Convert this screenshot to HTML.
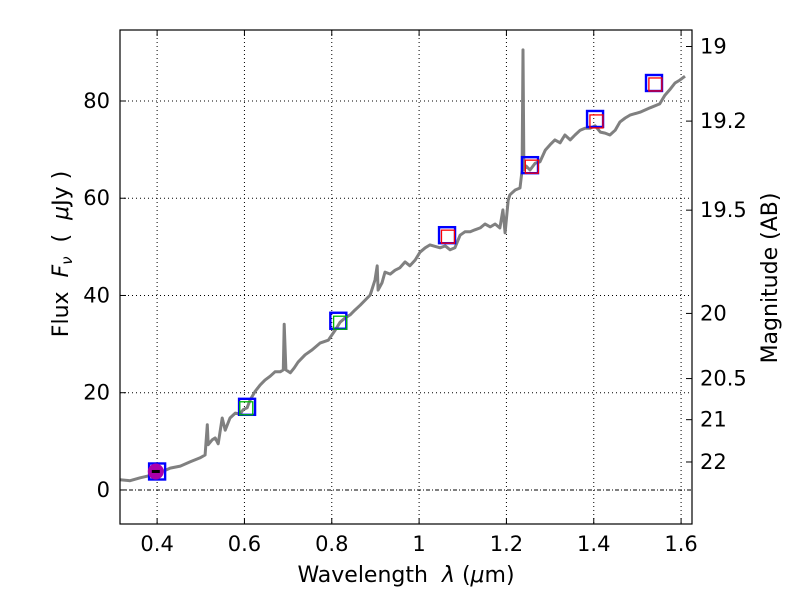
<!DOCTYPE html>
<html><head><meta charset="utf-8">
<style>
body{margin:0;background:#fff;}
svg text{font-family:"DejaVu Sans","Liberation Sans",sans-serif;}
</style></head>
<body>
<svg id="chart" width="800" height="600" viewBox="0 0 800 600" xmlns="http://www.w3.org/2000/svg" style="position:absolute;left:0;top:0">
<rect x="0" y="0" width="800" height="600" fill="#fff"/>
<g id="grid"></g>
<g id="plot"></g>
<g id="axes"></g>
</svg>
<script>
const specWave=[0.315,0.338,0.361,0.4,0.430,0.453,0.476,0.498,0.510,0.515,0.517,0.526,0.533,0.540,0.549,0.556,0.567,0.579,0.590,0.597,0.606,0.613,0.624,0.636,0.647,0.659,0.670,0.682,0.689,0.691,0.695,0.705,0.714,0.723,0.739,0.755,0.773,0.792,0.808,0.819,0.831,0.842,0.853,0.865,0.888,0.899,0.904,0.906,0.915,0.922,0.934,0.945,0.956,0.968,0.979,0.991,1.002,1.014,1.025,1.048,1.060,1.071,1.082,1.094,1.105,1.117,1.128,1.140,1.151,1.163,1.174,1.185,1.192,1.197,1.204,1.208,1.220,1.231,1.236,1.238,1.240,1.245,1.254,1.266,1.277,1.289,1.300,1.311,1.323,1.334,1.346,1.357,1.369,1.380,1.392,1.403,1.415,1.426,1.437,1.449,1.460,1.472,1.483,1.506,1.529,1.551,1.563,1.574,1.586,1.597,1.609,1.625];
const specFlux=[2.1,1.9,2.5,3.3,4.5,4.9,5.8,6.6,7.2,13.4,9.3,10.3,10.7,9.5,14.8,12.3,14.8,15.8,15.6,16.5,16.9,18.5,20.2,21.6,22.6,23.4,24.3,24.3,24.7,34.1,24.7,24.1,25.1,26.3,27.8,28.8,30.2,30.8,32.9,34.5,35.4,36.0,37.0,38.0,40.1,43.2,46.1,41.1,42.6,44.8,44.4,45.2,45.7,46.9,46.1,47.3,48.9,49.8,50.4,49.8,50.2,49.4,49.8,52.4,53.1,53.1,53.5,53.9,54.7,54.1,54.7,53.9,57.6,52.9,59.6,60.7,61.7,62.1,65.8,90.5,65.8,66.6,65.8,67.2,67.5,69.9,71.0,72.0,71.4,73.0,72.0,73.0,74.0,74.4,74.4,74.9,73.6,73.4,73.0,74.0,75.7,76.5,77.1,77.7,78.6,79.4,81.2,82.3,83.7,84.3,85.1];
const blueWave=[0.4,0.606,0.815,1.064,1.254,1.403,1.538];
const blueFlux=[3.8,17.1,34.8,52.4,66.8,76.3,83.7];
const greenWave=[0.603,0.818];
const greenFlux=[16.9,34.5];
const redWave=[1.065,1.257,1.405,1.540];
const redFlux=[52.2,66.6,75.9,83.5];
const circleWave=[0.397];
const circleFlux=[3.8];
const xTicks=[0.4,0.6,0.8,1.0,1.2,1.4,1.6];
const xTickLabels=["0.4","0.6","0.8","1","1.2","1.4","1.6"];
const yTicks=[0,20,40,60,80];
const magTicks=[19,19.2,19.5,20,20.5,21,22];
const magLabels=["19","19.2","19.5","20","20.5","21","22"];

const L=120,R=692,T=30,B=524;
const xmin=0.315,xmax=1.625,ymin=-7.0,ymax=94.6;
const X=v=>L+(v-xmin)/(xmax-xmin)*(R-L);
const Y=v=>B-(v-ymin)/(ymax-ymin)*(B-T);
const NS="http://www.w3.org/2000/svg";
function mk(tag,parent,attrs){const e=document.createElementNS(NS,tag);for(const k in attrs)e.setAttribute(k,attrs[k]);parent.appendChild(e);return e;}
const grid=document.getElementById('grid'),plot=document.getElementById('plot'),axes=document.getElementById('axes');

xTicks.forEach(t=>{const g=mk('line',grid,{x1:X(t),x2:X(t),y1:T,y2:B,stroke:'#000','stroke-width':1,'stroke-dasharray':'1,3'});

});
yTicks.forEach(t=>{if(t===0)return;const g=mk('line',grid,{x1:L,x2:R,y1:Y(t),y2:Y(t),stroke:'#000','stroke-width':1,'stroke-dasharray':'1,3'});

});
const zl=mk('line',grid,{x1:L,x2:R,y1:Y(0),y2:Y(0),stroke:'#000','stroke-width':1,'stroke-dasharray':'4,2,1,2'});



const pts=specWave.map((w,i)=>X(w).toFixed(1)+','+Y(specFlux[i]).toFixed(1)).join(' ');
const sp=mk('polyline',plot,{points:pts,fill:'none',stroke:'#808080','stroke-width':3,'stroke-linejoin':'round'});



blueWave.forEach((w,i)=>{const s=mk('rect',plot,{x:X(w)-8,y:Y(blueFlux[i])-8,width:16,height:16,fill:'none',stroke:'#00f','stroke-width':2.4});

});
circleWave.forEach((w,i)=>{const c=mk('circle',plot,{cx:X(w),cy:Y(circleFlux[i]),r:8,fill:'#a0a'});


const d=mk('rect',plot,{x:X(w)-4,y:Y(circleFlux[i])-1.5,width:8,height:3,fill:'#000'});

});
greenWave.forEach((w,i)=>{const s=mk('rect',plot,{x:X(w)-6,y:Y(greenFlux[i])-6,width:13,height:13,fill:'none',stroke:'#0b0','stroke-width':1.3});

});
redWave.forEach((w,i)=>{const s=mk('rect',plot,{x:X(w)-6,y:Y(redFlux[i])-6,width:13,height:13,fill:'none',stroke:'#f00','stroke-width':1.3});

});

const fr=mk('rect',axes,{x:L,y:T,width:R-L,height:B-T,fill:'none',stroke:'#000','stroke-width':1.2});


xTicks.forEach((t,i)=>{
 mk('line',axes,{x1:X(t),x2:X(t),y1:B,y2:B-6,stroke:'#000'});
 mk('line',axes,{x1:X(t),x2:X(t),y1:T,y2:T+6,stroke:'#000'});
 const tx=mk('text',axes,{x:X(t),y:B+27,'font-size':21,'text-anchor':'middle'});tx.textContent=xTickLabels[i];
 
 });
yTicks.forEach(t=>{
 mk('line',axes,{x1:L,x2:L+6,y1:Y(t),y2:Y(t),stroke:'#000'});
 const tx=mk('text',axes,{x:L-10,y:Y(t)+7,'font-size':21,'text-anchor':'end'});tx.textContent=String(t);
 
 });
magTicks.forEach((m,i)=>{const f=3631e6*Math.pow(10,-0.4*m);const y=Y(f);
 mk('line',axes,{x1:R,x2:R-6,y1:y,y2:y,stroke:'#000'});
 const tx=mk('text',axes,{x:R+8,y:y+7,'font-size':21});tx.textContent=magLabels[i];
 
 });
</script>
<svg style="position:absolute;left:0;top:0" width="800" height="600">
<text x="406" y="582" font-size="22" text-anchor="middle">Wavelength&#160;&#160;<tspan font-style="italic">λ</tspan>&#160;(<tspan font-style="italic">μ</tspan>m)</text>
<text transform="translate(68,254) rotate(-90)" font-size="22" text-anchor="middle">Flux&#160;&#160;<tspan font-style="italic">F</tspan><tspan font-style="italic" font-size="15" dy="4">ν</tspan><tspan dy="-4">&#160;&#160;(&#160;&#160;</tspan><tspan font-style="italic">μ</tspan>Jy&#160;)</text>
<text transform="translate(777,278) rotate(-90)" font-size="22" text-anchor="middle">Magnitude (AB)</text>
</svg>
</body></html>
